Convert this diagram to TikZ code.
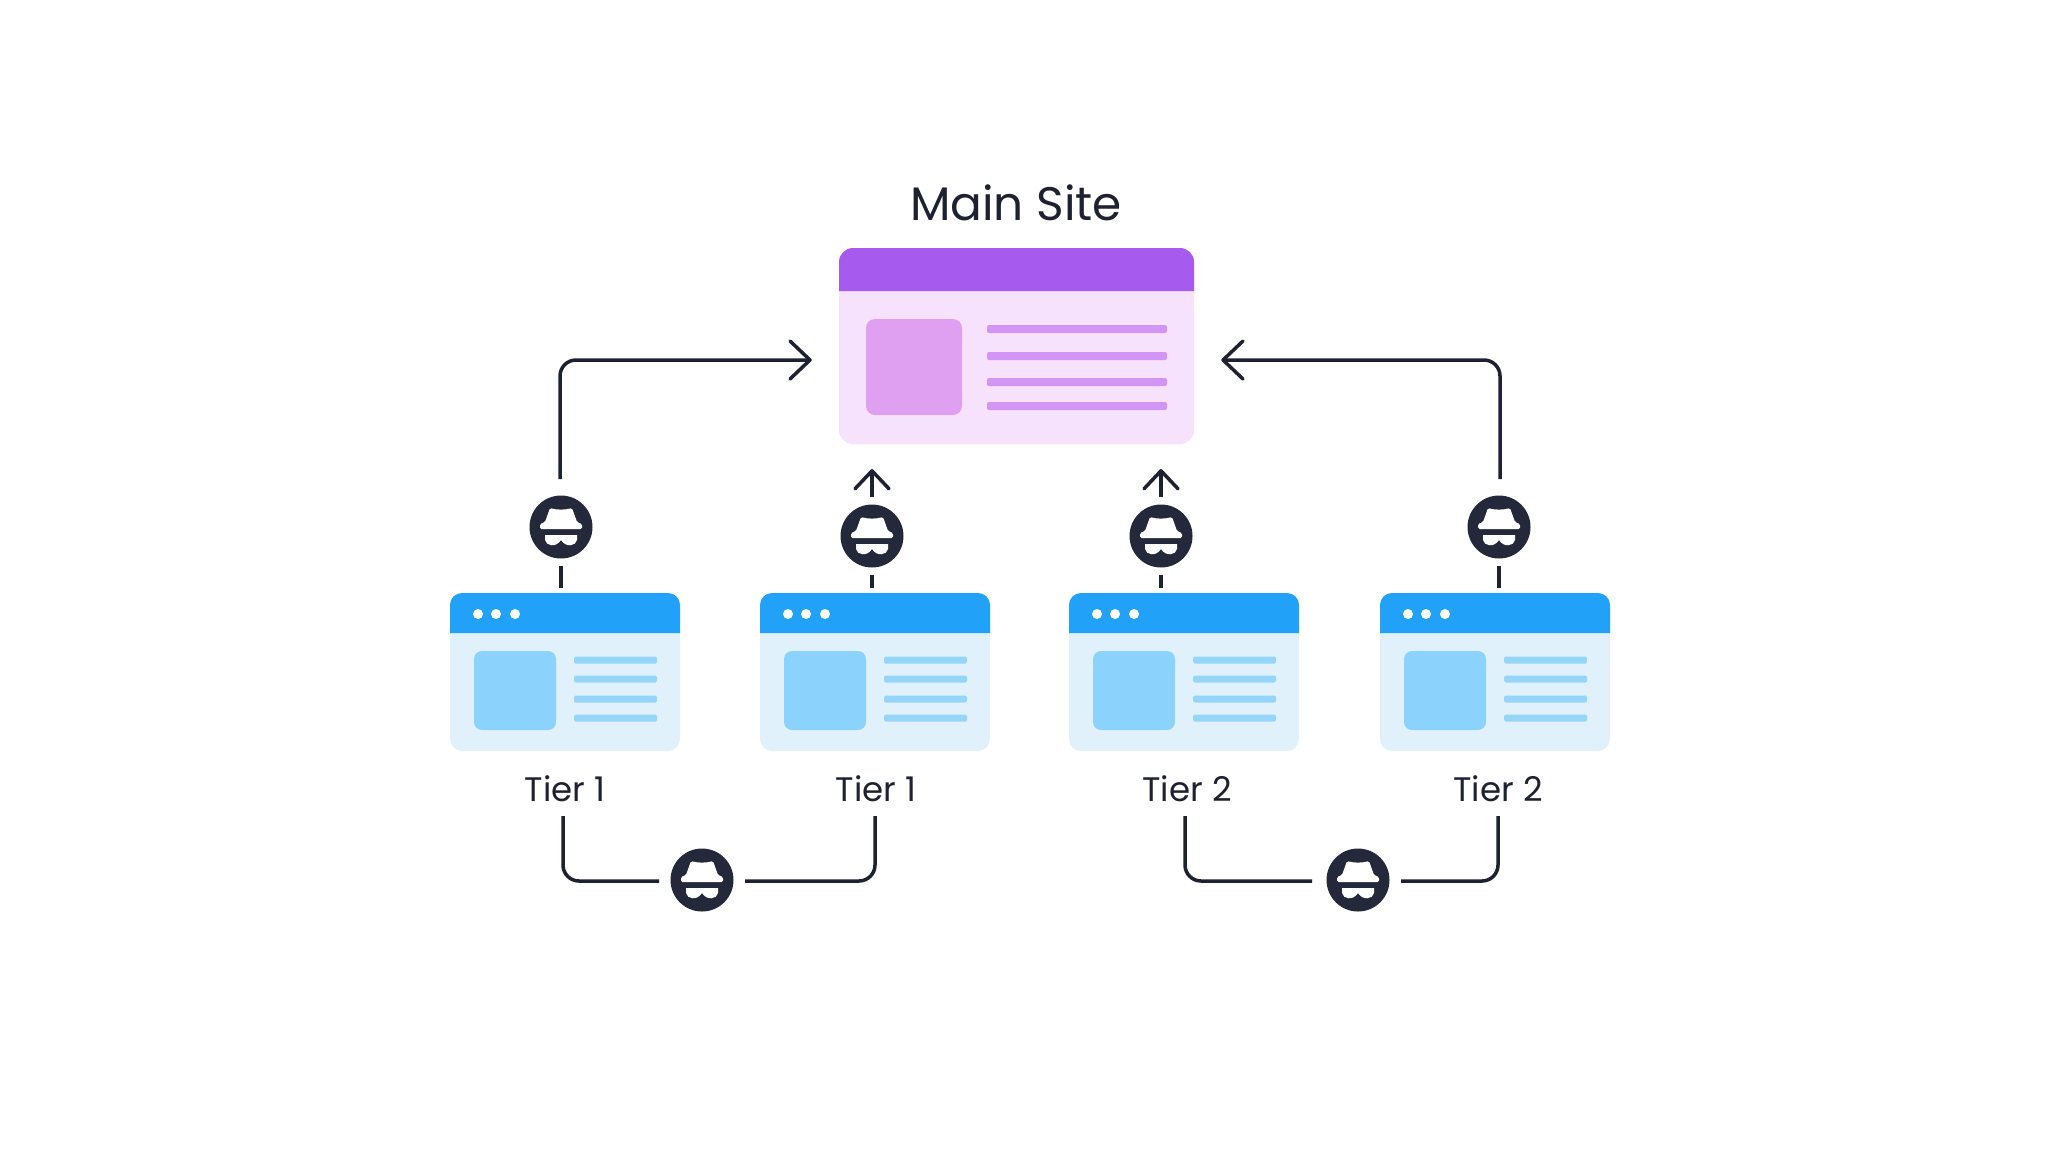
\documentclass[tikz,border=0pt]{standalone}
\usepackage{fontspec}
\setmainfont{Poppins}
\definecolor{ink}{HTML}{23283A}
\definecolor{wire}{HTML}{1D2130}
\definecolor{purplehead}{HTML}{A65BEE}
\definecolor{purplebody}{HTML}{F6E2FC}
\definecolor{purplebox}{HTML}{DFA0F2}
\definecolor{purplebar}{HTML}{D295F5}
\definecolor{bluehead}{HTML}{21A1F8}
\definecolor{bluebody}{HTML}{E0F1FC}
\definecolor{bluebox}{HTML}{8BD3FC}
\definecolor{bluebar}{HTML}{95D5F8}
\tikzset{
  flow/.style={draw=wire,line width=3.5pt,rounded corners=16pt},
  tip/.style={flow,rounded corners=0pt,line cap=round,line join=round},
  spynode/.style={circle,fill=ink,minimum size=63pt,inner sep=0pt},
  tierlabel/.style={text=wire,font=\fontsize{34}{38}\selectfont},
  pics/hat/.style={code={
    \fill[white,rounded corners=1.5pt] (-11,-19) .. controls (-4,-17) and (4,-17) .. (11,-19) -- (16,-5) -- (21,-3) -- (21,2) -- (-21,2) -- (-21,-3) -- (-16,-5) -- cycle;
    \fill[white] (-16,8) -- (16,8) -- (16,13) .. controls (15,19) and (5,21) .. (0,13) .. controls (-5,21) and (-15,19) .. (-16,13) -- cycle;
  }},
}
\begin{document}
\begin{tikzpicture}[x=1pt,y=-1pt]
\useasboundingbox (0,0) rectangle (2048,1152);
% main site
\node[fill=purplebody,rounded corners=14pt,minimum width=355pt,minimum height=196pt,inner sep=0pt] (main) at (1016.5,346) {};
\fill[purplehead] (839,291) [rounded corners=14pt] -- (839,248) -- (1194,248) [sharp corners] -- (1194,291) -- cycle;
\fill[purplebox,rounded corners=9pt] (866,319) rectangle (962,415);
\foreach \y in {329,356,382,406}{\fill[purplebar,rounded corners=2pt] (987,\y-4) rectangle (1167,\y+4);}
\node[text=wire,font=\fontsize{47}{50}\selectfont] (title) at (1016,203) {Main Site};
% tier cards
\foreach \n/\d/\lx/\t in {t1/0/565/Tier 1,t2/310/566/Tier 1,t3/619/568/Tier 2,t4/930/568/Tier 2}{
\begin{scope}[shift={(\d,0)}]
\node[fill=bluebody,rounded corners=12pt,minimum width=230pt,minimum height=158pt,inner sep=0pt] (\n) at (565,672) {};
\fill[bluehead] (450,633) [rounded corners=12pt] -- (450,593) -- (680,593) [sharp corners] -- (680,633) -- cycle;
\foreach \x in {478,496,515}{\fill[white] (\x,614) circle (5pt);}
\fill[bluebox,rounded corners=8pt] (474,651) rectangle (556,730);
\foreach \y in {660,679,699,718}{\fill[bluebar,rounded corners=1.5pt] (574,\y-3.5) rectangle (657,\y+3.5);}
\node[tierlabel] (l\n) at (\lx,789) {\t};
\end{scope}
}
% spies
\foreach \n/\x/\y in {s1/561/527,s2/872/536,s3/1161/536,s4/1499/527,b1/702/880,b2/1358/880}{
\node[spynode] (\n) at (\x,\y) {};
\pic at (\n) {hat};
}
% free ends
\coordinate (in1) at (810,360);
\coordinate (in2) at (1223,360);
\coordinate (e1) at (560,479);
\coordinate (e4) at (1500,479);
\coordinate (d1) at (563,816);
\coordinate (d2) at (875,816);
\coordinate (d3) at (1185,816);
\coordinate (d4) at (1498,816);
\coordinate (g1) at (659,881);
\coordinate (g2) at (745,881);
\coordinate (g3) at (1312,881);
\coordinate (g4) at (1401,881);
% connectors
\draw[flow] (e1) |- (in1);
\draw[flow] (e4) |- (in2);
\draw[tip] ([shift={(-20,-19)}]in1) -- (in1) -- ([shift={(-20,19)}]in1);
\draw[tip] ([shift={(20,-19)}]in2) -- (in2) -- ([shift={(20,19)}]in2);
\foreach \n/\c in {s1/t1,s2/t2,s3/t3,s4/t4}{
\draw[flow,shorten <=7pt,shorten >=5pt] (\n.south) -- (\n.south |- \c.north);
}
\draw[flow,shorten <=7pt] (s2.north) -- ++(0,-33.5) coordinate (a2);
\draw[flow,shorten <=7pt] (s3.north) -- ++(0,-33.5) coordinate (a3);
\draw[tip] ([shift={(-17,18)}]a2) -- (a2) -- ([shift={(17,18)}]a2);
\draw[tip] ([shift={(-17,18)}]a3) -- (a3) -- ([shift={(17,18)}]a3);
\draw[flow] (d1) |- (g1);
\draw[flow] (d2) |- (g2);
\draw[flow] (d3) |- (g3);
\draw[flow] (d4) |- (g4);
\end{tikzpicture}
\end{document}
